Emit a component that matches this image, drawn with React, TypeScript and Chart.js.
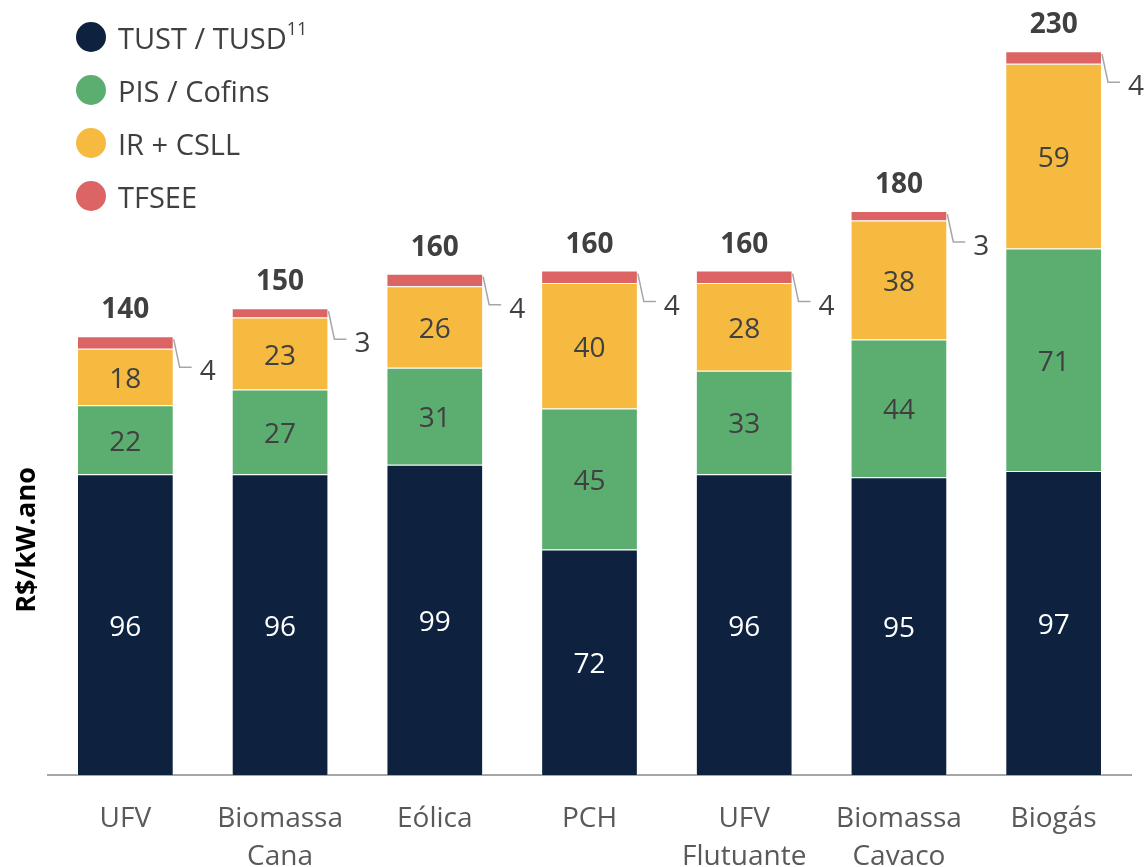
import React, { useEffect, useRef } from "react";
import { Chart, registerables } from "chart.js";

Chart.register(...registerables);

const categories: (string | string[])[] = [
  "UFV",
  ["Biomassa", "Cana"],
  "Eólica",
  "PCH",
  ["UFV", "Flutuante"],
  ["Biomassa", "Cavaco"],
  "Biogás",
];
const tust = [96, 96, 99, 72, 96, 95, 97];
const pisCofins = [22, 27, 31, 45, 33, 44, 71];
const irCsll = [18, 23, 26, 40, 28, 38, 59];
const tfsee = [4, 3, 4, 4, 4, 3, 4];
const totals = [140, 150, 160, 160, 160, 180, 230];

const seriesNames = ["TUST / TUSD", "PIS / Cofins", "IR + CSLL", "TFSEE"];
const colors = ["#0E2240", "#5BAE6F", "#F5BA3F", "#DC6464"];

const FONT = "'Open Sans', 'Liberation Sans', sans-serif";
const TEXT = "#404040";

const labelPlugin = {
  id: "customLabels",
  afterDatasetsDraw(chart: any) {
    const ctx = chart.ctx;
    ctx.save();
    // inner labels
    for (let d = 0; d < 3; d++) {
      const meta = chart.getDatasetMeta(d);
      meta.data.forEach((el: any, j: number) => {
        const v = chart.data.datasets[d].data[j];
        const yc = (el.y + el.base) / 2 + 3;
        ctx.font = `28px ${FONT}`;
        ctx.fillStyle = d === 0 ? "#FFFFFF" : TEXT;
        ctx.textAlign = "center";
        ctx.textBaseline = "middle";
        ctx.fillText(String(v), el.x, yc);
      });
    }
    // TFSEE leader labels + totals
    const meta = chart.getDatasetMeta(3);
    meta.data.forEach((el: any, j: number) => {
      const v = chart.data.datasets[3].data[j];
      const right = el.x + el.width / 2;
      const top = el.y;
      ctx.strokeStyle = "#A6A6A6";
      ctx.lineWidth = 1.5;
      ctx.beginPath();
      ctx.moveTo(right, top + 3);
      ctx.lineTo(right + 6, top + 31);
      ctx.lineTo(right + 18, top + 31);
      ctx.stroke();
      ctx.font = `28px ${FONT}`;
      ctx.fillStyle = TEXT;
      ctx.textAlign = "left";
      ctx.textBaseline = "middle";
      ctx.fillText(String(v), right + 26, top + 36);
      ctx.font = `bold 28px ${FONT}`;
      ctx.textAlign = "center";
      ctx.fillText(String(totals[j]), el.x, top - 26);
    });
    // y-axis title
    ctx.save();
    ctx.translate(27, 540);
    ctx.rotate(-Math.PI / 2);
    ctx.font = `bold 27px ${FONT}`;
    ctx.fillStyle = "#000000";
    ctx.textAlign = "center";
    ctx.textBaseline = "middle";
    ctx.fillText("R$/kW.ano", 0, 0);
    ctx.restore();
    ctx.restore();
  },
};

export default function App() {
  const ref = useRef<HTMLCanvasElement | null>(null);

  useEffect(() => {
    document.body.style.margin = "0";
    const canvas = ref.current;
    if (!canvas) return;
    const series = [tust, pisCofins, irCsll, tfsee];
    const chart = new Chart(canvas, {
      type: "bar",
      data: {
        labels: categories,
        datasets: series.map((s, i) => ({
          label: seriesNames[i],
          data: s,
          backgroundColor: colors[i],
          borderColor: "rgba(255,255,255,0.55)",
          borderWidth: 1,
          categoryPercentage: 1,
          barPercentage: 0.625,
        })),
      },
      options: {
        responsive: false,
        animation: false,
        devicePixelRatio: 1,
        layout: { padding: { top: 23, left: 48, right: 16, bottom: 0 } },
        plugins: { legend: { display: false }, tooltip: { enabled: false } },
        scales: {
          x: {
            stacked: true,
            grid: { display: false, drawTicks: false },
            border: { display: true, color: "#A6A6A6", width: 2 },
            ticks: {
              padding: 25,
              color: "#595959",
              font: { family: FONT, size: 28, lineHeight: 1.357 },
              maxRotation: 0,
              autoSkip: false,
            },
          },
          y: {
            stacked: true,
            display: false,
            min: 0,
            max: 240,
          },
        },
      },
      plugins: [labelPlugin],
    });
    return () => chart.destroy();
  }, []);

  const legendItem = (i: number) => (
    <div
      key={i}
      style={{
        position: "absolute",
        left: 76,
        top: 37 + i * 53 - 20,
        height: 40,
        display: "flex",
        alignItems: "center",
        fontFamily: FONT,
        fontSize: 29,
        color: TEXT,
        whiteSpace: "nowrap",
      }}
    >
      <span
        style={{
          display: "inline-block",
          width: 30,
          height: 30,
          borderRadius: "50%",
          background: colors[i],
          marginRight: 12,
        }}
      />
      <span>
        {seriesNames[i]}
        {i === 0 ? (
          <sup style={{ fontSize: 18, position: "relative", top: -3 }}>11</sup>
        ) : null}
      </span>
    </div>
  );

  return (
    <div style={{ position: "relative", width: 1147, height: 867, overflow: "hidden", background: "#fff" }}>
      <canvas ref={ref} width={1147} height={901} style={{ position: "absolute", left: 0, top: 0 }} />
      {[0, 1, 2, 3].map(legendItem)}
    </div>
  );
}
